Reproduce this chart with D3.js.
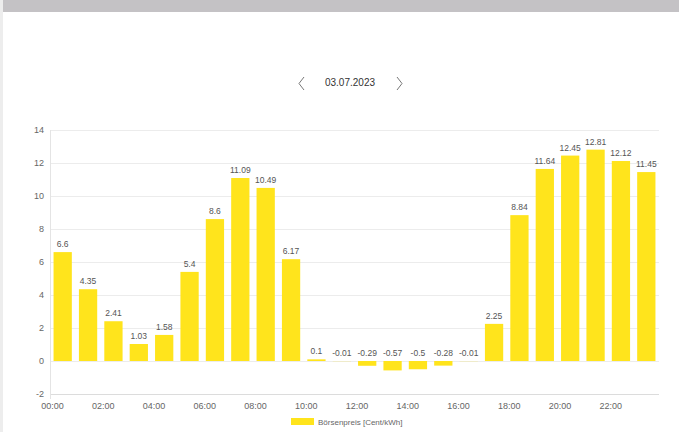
<!DOCTYPE html>
<html>
<head>
<meta charset="utf-8">
<script src="https://cdn.jsdelivr.net/npm/d3@7"></script>
<style>
  html, body { margin: 0; padding: 0; background: #fff; }
  svg { display: block; font-family: "Liberation Sans", Arial, sans-serif; }
</style>
</head>
<body>
<svg id="viz" width="679" height="432"></svg>
<script>
// Chart data

var hours = ["00:00","01:00","02:00","03:00","04:00","05:00","06:00","07:00","08:00","09:00","10:00","11:00",
	"12:00","13:00","14:00","15:00","16:00","17:00","18:00","19:00","20:00","21:00","22:00","23:00"];
var prices = [6.6, 4.35, 2.41, 1.03, 1.58, 5.4, 8.6, 11.09, 10.49, 6.17, 0.1, -0.01,
	-0.29, -0.57, -0.5, -0.28, -0.01, 2.25, 8.84, 11.64, 12.45, 12.81, 12.12, 11.45];
var yTicks = [-2, 0, 2, 4, 6, 8, 10, 12, 14];
var dateLabel = "03.07.2023";
var seriesName = "Börsenpreis [Cent/kWh]";

var barColour = "#ffe41c";

var svg = d3.select("#viz"),
	width = +svg.attr("width"),
	height = +svg.attr("height");

// Page frame: grey header strip and left border

svg.append("rect")
	.attr("x", 3).attr("y", 0)
	.attr("width", width - 3).attr("height", 12)
	.attr("fill", "#c4c2c5");

svg.append("rect")
	.attr("x", 0).attr("y", 0)
	.attr("width", 3).attr("height", height)
	.attr("fill", "#ededed");

// Date navigation

svg.append("text")
	.attr("x", 350).attr("y", 86)
	.attr("text-anchor", "middle")
	.attr("font-size", 10)
	.attr("fill", "#333")
	.text(dateLabel);

svg.append("path")
	.attr("d", "M304,77 L299,83.5 L304,90")
	.attr("fill", "none").attr("stroke", "#777").attr("stroke-width", 1);

svg.append("path")
	.attr("d", "M397,77 L402,83.5 L397,90")
	.attr("fill", "none").attr("stroke", "#777").attr("stroke-width", 1);

// Scales

var plotLeft = 50, plotRight = 659, plotTop = 130, plotBottom = 394;

var x = d3.scaleBand()
	.domain(hours)
	.range([plotLeft, plotRight]);

var y = d3.scaleLinear()
	.domain([-2, 14])
	.range([plotBottom, plotTop]);

var g = svg.append("g");

// Grid lines

g.append("g")
	.selectAll("line")
	.data(yTicks)
	.enter()
	.append("line")
	.attr("x1", plotLeft)
	.attr("x2", plotRight)
	.attr("y1", d => Math.round(y(d)) + 0.5)
	.attr("y2", d => Math.round(y(d)) + 0.5)
	.style("stroke", d => d == -2 ? "#dcdcdc" : "#ececec");

g.append("line")
	.attr("x1", plotLeft + 0.5).attr("x2", plotLeft + 0.5)
	.attr("y1", plotTop).attr("y2", plotBottom + 5)
	.style("stroke", "#e4e4e4");

// Y axis labels

g.append("g")
	.selectAll("text")
	.data(yTicks)
	.enter()
	.append("text")
	.attr("x", 44)
	.attr("y", d => y(d) + 3)
	.attr("text-anchor", "end")
	.attr("font-size", 9)
	.attr("fill", "#666")
	.text(d => d);

// X axis labels (every second hour)

g.append("g")
	.selectAll("text")
	.data(hours.filter((d, i) => i % 2 == 0))
	.enter()
	.append("text")
	.attr("x", d => x(d) + 2.5)
	.attr("y", 409)
	.attr("text-anchor", "middle")
	.attr("font-size", 9)
	.attr("fill", "#666")
	.text(d => d);

// Bars

var bw = x.bandwidth() * 0.72;

g.append("g")
	.selectAll("rect")
	.data(prices)
	.enter()
	.append("rect")
	.attr("x", (d, i) => x(hours[i]) + (x.bandwidth() - bw) / 2)
	.attr("width", bw)
	.attr("y", d => y(Math.max(d, 0)))
	.attr("height", d => Math.abs(y(d) - y(0)))
	.attr("fill", barColour);

// Value labels

g.append("g")
	.selectAll("text")
	.data(prices)
	.enter()
	.append("text")
	.attr("x", (d, i) => x(hours[i]) + x.bandwidth() / 2)
	.attr("y", d => y(Math.max(d, 0)) - 5)
	.attr("text-anchor", "middle")
	.attr("font-size", 8.5)
	.attr("fill", "#555")
	.text(d => d);

// Legend

svg.append("rect")
	.attr("x", 291).attr("y", 418)
	.attr("width", 23).attr("height", 7)
	.attr("fill", barColour);

svg.append("text")
	.attr("x", 318).attr("y", 424.5)
	.attr("font-size", 8)
	.attr("fill", "#666")
	.text(seriesName);
</script>
</body>
</html>
